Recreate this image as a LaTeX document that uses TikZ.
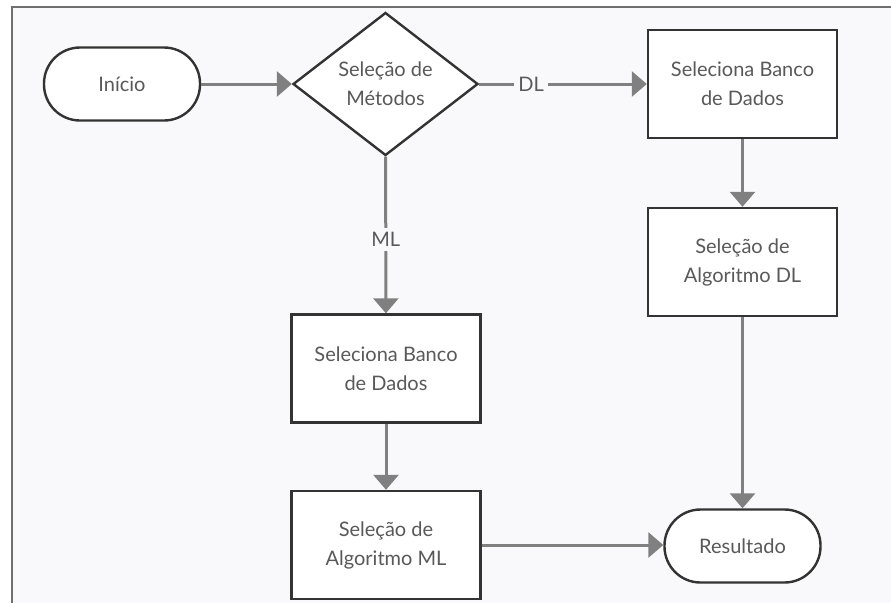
\documentclass[tikz,border=0pt]{standalone}
\usepackage{fontspec}
\setmainfont{Lato}
\usetikzlibrary{shapes.geometric,arrows.meta}
\definecolor{bgc}{HTML}{F9F9FB}
\definecolor{framec}{HTML}{707070}
\definecolor{edgec}{HTML}{333333}
\definecolor{arrc}{HTML}{808080}
\definecolor{txtc}{HTML}{595959}
\tikzset{
  base/.style={draw=edgec, line width=2.4pt, fill=white, text=txtc, align=center,
    font=\fontsize{20}{29}\selectfont, inner sep=0pt},
  stadium/.style={base, rectangle, rounded corners=36pt, minimum width=156pt, minimum height=73pt},
  procbox/.style={base, rectangle, minimum width=189pt, minimum height=108pt},
  decision/.style={base, diamond, minimum width=185pt, minimum height=143pt},
  conn/.style={draw=arrc, line width=3pt, -{Triangle[length=15pt,width=25pt]}},
  lbl/.style={fill=bgc, text=txtc, font=\fontsize{20}{24}\selectfont, inner sep=4pt}
}
\begin{document}
\begin{tikzpicture}[x=1pt,y=-1pt]
\useasboundingbox (0,0) rectangle (891,603);
\fill[white] (0,0) rectangle (891,603);
\fill[bgc] (12,7) rectangle (891,603);
\draw[framec, line width=2pt] (12,603) -- (12,7) -- (891,7);

\node[stadium] (inicio) at (122,84) {Início};
\node[decision] (sel) at (385.5,84) {Seleção de\\Métodos};
\node[procbox] (bd1) at (742.5,84) {Seleciona Banco\\de Dados};
\node[procbox] (adl) at (742.5,262) {Seleção de\\Algoritmo DL};
\node[procbox] (bd2) at (386,368.5) {Seleciona Banco\\de Dados};
\node[procbox] (aml) at (386,545) {Seleção de\\Algoritmo ML};
\node[stadium] (res) at (742.5,546) {Resultado};

\draw[conn] (inicio) -- (sel);
\draw[conn] (sel) -- node[lbl, pos=0.31] (dl) {DL} (bd1);
\draw[conn] (sel) -- node[lbl, pos=0.53] (ml) {ML} (bd2);
\draw[conn] (bd1) -- (adl);
\draw[conn] (bd2) -- (aml);
\draw[conn] (adl) -- (res);
\draw[conn] (aml.east) -- (aml.east -| res.west);
\end{tikzpicture}
\end{document}
